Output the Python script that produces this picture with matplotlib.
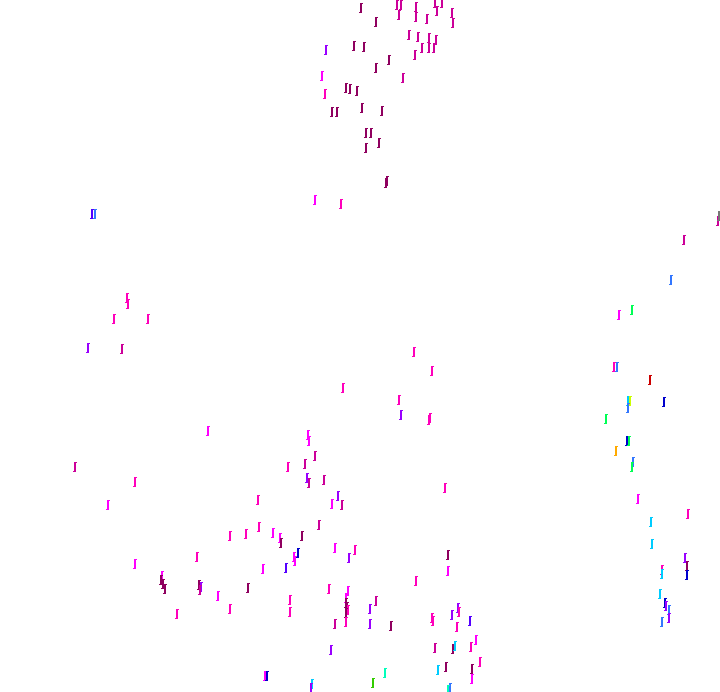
import matplotlib
matplotlib.use("Agg")
import matplotlib.pyplot as plt
from matplotlib.path import Path

# point data: x, y (pixel-like data units, y downward), colour category
x_vals = [361, 397, 401, 399, 416, 416, 435, 442, 437, 452, 453, 427, 376, 326, 322,
          354, 364, 409, 418, 429, 436, 422, 429, 434, 415, 389, 376, 403,
          325, 346, 350, 357, 332, 337, 362, 382, 366, 371, 379, 366, 387, 315, 341,
          92, 95, 127, 128, 114, 148, 88, 122,
          684, 671, 632, 619, 614, 617, 650, 628, 630, 628, 664, 606,
          627, 629, 616, 633, 632, 638, 688, 651, 652, 685, 687, 687, 662, 662, 660, 665, 666, 669, 669, 662,
          208, 75, 135, 108, 258, 230, 246, 259, 197, 135, 162, 161, 163, 165, 199, 201, 200, 248, 218, 230, 177,
          308, 309, 315, 305, 288, 307, 309, 324, 338, 332, 342, 319, 273, 280, 281, 302, 335, 355, 349,
          298, 294, 295, 263, 286, 329, 348, 290, 290, 346, 346, 347, 348, 346, 346, 335, 376, 370, 370, 391,
          331, 265, 267, 312, 311, 385, 373,
          429, 445, 448, 448, 416, 432, 433, 458, 459, 452, 470, 457, 476, 435, 471, 453, 455, 446, 480,
          472, 438, 472, 450, 448,
          386, 414, 432, 343, 399, 401, 430, 718, 719]
y_vals = [8, 5, 5, 15, 7, 17, 3, 3, 11, 13, 23, 19, 22, 50, 76,
          46, 47, 35, 37, 38, 40, 48, 48, 48, 55, 60, 68, 78,
          94, 88, 89, 91, 112, 112, 108, 111, 133, 133, 143, 148, 181, 200, 204,
          214, 214, 298, 304, 319, 319, 348, 349,
          240, 280, 310, 315, 367, 367, 380, 401, 401, 408, 402, 419,
          441, 441, 451, 462, 467, 499, 514, 522, 544, 558, 566, 575, 570, 574, 594, 603, 606, 610, 618, 622,
          431, 467, 482, 505, 500, 536, 534, 527, 557, 564, 576, 580, 584, 589, 585, 587, 590, 588, 596, 609, 614,
          435, 441, 456, 464, 467, 478, 483, 480, 496, 504, 505, 525, 533, 538, 543, 536, 548, 550, 558,
          553, 557, 561, 569, 568, 589, 591, 600, 612, 598, 603, 607, 610, 613, 622, 624, 601, 609, 624, 626,
          650, 676, 676, 684, 688, 673, 683,
          420, 488, 555, 571, 581, 618, 621, 608, 612, 615, 621, 627, 640, 648, 647, 649, 646, 667, 662,
          669, 670, 679, 688, 690,
          183, 352, 371, 388, 400, 415, 418, 221, 216]
cats = ['plum', 'dpink', 'dpink', 'dpink', 'dpink', 'dpink', 'dpink', 'dpink', 'dpink', 'dpink', 'dpink', 'dpink', 'plum', 'purp', 'mag',
        'plum', 'plum', 'dpink', 'dpink', 'dpink', 'dpink', 'dpink', 'dpink', 'dpink', 'dpink', 'plum', 'plum', 'dpink',
        'pink', 'plum', 'plum', 'plum', 'plum', 'plum', 'plum', 'plum', 'plum', 'plum', 'plum', 'plum', 'plum', 'mag', 'pink',
        'viol', 'azure', 'pink', 'pink', 'pink', 'pink', 'purp', 'dpink',
        'dpink', 'azure', 'green', 'mag', 'pink', 'azure', 'red', 'cyan', 'yellow', 'azure', 'blue', 'green',
        'blue', 'green', 'orange', 'azure', 'green', 'mag', 'pink', 'cyan', 'cyan', 'purp', 'plum', 'blue', 'pink', 'cyan', 'cyan', 'blue', 'purp', 'azure', 'purp', 'azure',
        'mag', 'dpink', 'pink', 'mag', 'pink', 'pink', 'pink', 'pink', 'pink', 'mag', 'mag', 'plum', 'plum', 'plum', 'plum', 'purp', 'dpink', 'plum', 'mag', 'pink', 'pink',
        'mag', 'mag', 'dpink', 'dpink', 'pink', 'purp', 'dpink', 'dpink', 'purp', 'mag', 'dpink', 'dpink', 'mag', 'mag', 'plum', 'plum', 'mag', 'pink', 'purp',
        'blue', 'mag', 'mag', 'mag', 'viol', 'pink', 'mag', 'pink', 'pink', 'mag', 'plum', 'plum', 'pink', 'plum', 'pink', 'dpink', 'dpink', 'purp', 'purp', 'plum',
        'purp', 'mag', 'blue', 'cyan', 'purp', 'aqua', 'lime',
        'pink', 'pink', 'plum', 'mag', 'pink', 'pink', 'pink', 'purp', 'pink', 'purp', 'viol', 'pink', 'mag', 'dpink', 'pink', 'plum', 'cyan', 'plum', 'pink',
        'plum', 'cyan', 'mag', 'azure', 'aqua',
        'plum', 'pink', 'pink', 'pink', 'pink', 'purp', 'pink', 'dpink', 'gray']

palette = {'mag': '#ff00ff', 'pink': '#ff00bb', 'dpink': '#cc0099', 'plum': '#8f005f',
           'purp': '#9900ff', 'viol': '#5500ff', 'blue': '#0000cc', 'azure': '#3377ff',
           'cyan': '#00ccff', 'aqua': '#00ffbb', 'green': '#00ff55', 'lime': '#33cc00',
           'orange': '#ffaa00', 'red': '#cc0000', 'yellow': '#ccff00', 'gray': '#777777'}

# hook-shaped marker (like a small 'ʃ')
hook = Path([(-0.22, -0.75), (-0.22, 1.0), (0.42, 1.0), (0.42, 0.7), (0.22, 0.7),
             (0.22, -1.0), (-0.42, -1.0), (-0.42, -0.75), (-0.22, -0.75)])

fig = plt.figure(figsize=(7.2, 6.92), dpi=100)
ax = fig.add_axes([0, 0, 1, 1])
ax.set_xlim(0, 720)
ax.set_ylim(692, 0)
ax.axis('off')

colors = [palette[c] for c in cats]
ax.scatter(x_vals, y_vals, c=colors, marker=hook, s=55, linewidths=0)

fig.savefig("out.png", dpi=100, facecolor="white")
